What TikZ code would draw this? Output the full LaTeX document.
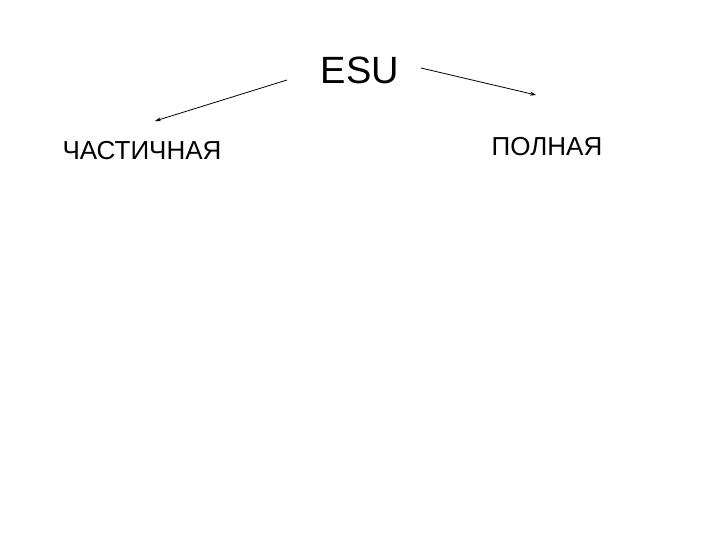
\documentclass[tikz,border=0pt]{standalone}
\usepackage{fontspec}
\setmainfont{Liberation Sans}
\usetikzlibrary{arrows.meta}
\begin{document}
\begin{tikzpicture}[x=1pt,y=-1pt,
  conn/.style={-{Stealth[length=6pt,width=4pt]},line width=0.8pt}]
\useasboundingbox[fill=white] (0,0) rectangle (720,540);
\node (esu) at (360,70) {\fontsize{38}{40}\selectfont ESU};
\node (part) at (142,151) {\fontsize{26}{28}\selectfont ЧАСТИЧНАЯ};
\node (full) at (547,147) {\fontsize{26}{28}\selectfont ПОЛНАЯ};
\coordinate (a1) at (287,80);
\coordinate (a2) at (155,121);
\coordinate (b1) at (421,68);
\coordinate (b2) at (536,95);
\draw[conn] (a1) -- (a2);
\draw[conn] (b1) -- (b2);
\end{tikzpicture}
\end{document}
